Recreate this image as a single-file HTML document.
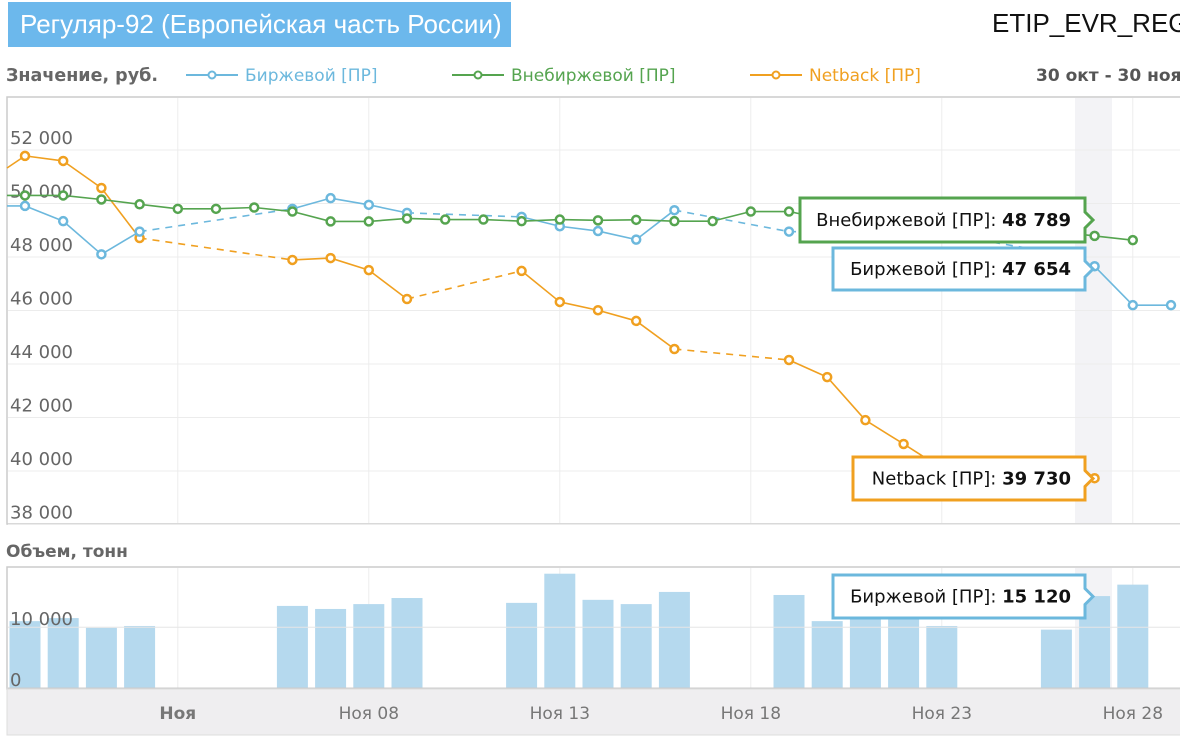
<!DOCTYPE html>
<html><head><meta charset="utf-8">
<style>
body{margin:0;width:1180px;height:740px;overflow:hidden;background:#fff;font-family:"Liberation Sans","DejaVu Sans",sans-serif;}
#title{position:absolute;left:8px;top:2px;width:503px;height:45px;background:#6cb8ec;color:#fff;font-size:26px;line-height:45px;text-indent:12px;white-space:nowrap;}
#code{position:absolute;left:992px;top:8px;font-size:26px;color:#111;white-space:nowrap;}
svg{position:absolute;left:0;top:0;}
</style></head><body>
<div id="title">Регуляр-92 (Европейская часть России)</div>
<div id="code">ETIP_EVR_REG</div>
<svg id="svg" width="1180" height="740"></svg>
<script>
const dayLabels=["","","","","Ноя","","","","","Ноя 08","","","","","Ноя 13","","","","","Ноя 18","","","","","Ноя 23","","","","","Ноя 28",""];
const exchange=[49910,49340,48100,48950,null,null,null,49800,50200,49950,49650,null,null,49500,49150,48970,48650,49750,null,null,48950,null,48900,48850,48870,null,null,48150,47654,46200,46200];
const otc=[50300,50300,50150,49970,49800,49800,49850,49700,49330,49330,49440,49400,49400,49340,49400,49370,49390,49340,49340,49700,49700,49400,49300,49200,49100,49050,49000,48950,48789,48630,null];
const netback=[51780,51590,50580,48710,null,null,null,47890,47960,47510,46430,null,null,47480,46320,46010,45610,44560,null,null,44150,43510,41900,41010,40100,39600,39300,39100,39730,null,null];
const volume=[11000,11500,9900,10200,null,null,null,13500,13000,13800,14800,null,null,14000,18800,14500,13800,15800,null,null,15300,11000,11500,12200,10200,null,null,9600,15120,17000,null];
const yTicks=[38000,40000,42000,44000,46000,48000,50000,52000];
const volTicks=[0,10000];

const NS="http://www.w3.org/2000/svg";
const svg=document.getElementById('svg');
const DJ='"DejaVu Sans",sans-serif';
function el(tag,attrs,parent){const e=document.createElementNS(NS,tag);for(const k in attrs)e.setAttribute(k,attrs[k]);(parent||svg).appendChild(e);return e;}
const xOf=i=>25+i*38.2;
const yOf=v=>150+(52000-v)*0.02675;
const vOf=v=>688-v*0.00608;
const fmt=v=>v.toLocaleString('ru-RU').replace(/\s/g,' ');

let t;
t=el('text',{x:6,y:81,'font-size':17.5,'font-weight':'bold',fill:'#666','font-family':DJ});t.textContent='Значение, руб.';

const leg=[['Биржевой [ПР]','#6cb8dd',186],['Внебиржевой [ПР]','#55a44f',452],['Netback [ПР]','#f0a020',750]];
leg.forEach(([n,c,x])=>{const g=el('g',{});

el('line',{x1:x,y1:75,x2:x+52,y2:75,stroke:c,'stroke-width':2},g);
el('circle',{cx:x+26,cy:75,r:3.5,fill:'#fff',stroke:c,'stroke-width':2},g);
const tt=el('text',{x:x+59,y:81,'font-size':17,fill:c,'font-family':DJ},g);tt.textContent=n;});
t=el('text',{x:1036,y:81,'font-size':17,'font-weight':'bold',fill:'#555','font-family':DJ});t.textContent='30 окт - 30 ноя';


el('rect',{x:7,y:97,width:1180,height:427,fill:'#fff',stroke:'#ccc','stroke-width':1.5});
el('rect',{x:1075,y:98,width:37,height:425,fill:'#f3f3f6'});
el('rect',{x:1075,y:568,width:37,height:120,fill:'#f3f3f6'});
dayLabels.forEach((l,i)=>{if(l){el('line',{x1:xOf(i),y1:98,x2:xOf(i),y2:523,stroke:'#ececec'});el('line',{x1:xOf(i),y1:568,x2:xOf(i),y2:688,stroke:'#ececec'});}});
yTicks.forEach(v=>{const y=yOf(v);el('line',{x1:8,y1:y,x2:1180,y2:y,stroke:'#ececec'});
const tx=el('text',{x:10,y:y-6,'font-size':18,fill:'#666','font-family':DJ});tx.textContent=fmt(v);
});

function series(data,color,name){
  const g=el('g',{});
  let prev=null;
  data.forEach((v,i)=>{if(v==null)return;
    if(prev!=null){const dashed=(i-prev)>1;
      el('line',{x1:xOf(prev),y1:yOf(data[prev]),x2:xOf(i),y2:yOf(v),stroke:color,'stroke-width':1.6,'stroke-dasharray':dashed?'7,6':'none'},g);}
    prev=i;});
  data.forEach((v,i)=>{if(v==null)return;const c=el('circle',{cx:xOf(i),cy:yOf(v),r:4,fill:'#fff',stroke:color,'stroke-width':2.5},g);
    });
  return g;}
el('line',{x1:7,y1:168,x2:xOf(0),y2:yOf(netback[0]),stroke:'#f0a020','stroke-width':1.6});
el('line',{x1:7,y1:yOf(otc[0]),x2:xOf(0),y2:yOf(otc[0]),stroke:'#55a44f','stroke-width':1.6});
el('line',{x1:7,y1:yOf(exchange[0]),x2:xOf(0),y2:yOf(exchange[0]),stroke:'#6cb8dd','stroke-width':1.6});
series(netback,'#f0a020','netback-series');
series(exchange,'#6cb8dd','exchange-series');
series(otc,'#55a44f','otc-series');

t=el('text',{x:6,y:557,'font-size':17,'font-weight':'bold',fill:'#666','font-family':DJ});t.textContent='Объем, тонн';

el('rect',{x:7,y:567,width:1180,height:122,fill:'none',stroke:'#ccc','stroke-width':1.5});
volume.forEach((v,i)=>{if(v==null)return;const b=el('rect',{x:xOf(i)-15.5,y:vOf(v),width:31,height:688-vOf(v),fill:'#b5d9ee'});
});
volTicks.forEach(v=>{const y=vOf(v);el('line',{x1:8,y1:y,x2:1180,y2:y,stroke:v?'#e6e6e6':'#ccc'});
const tx=el('text',{x:10,y:y-2,'font-size':18,fill:'#666','font-family':DJ});tx.textContent=fmt(v);
});
el('rect',{x:7,y:689,width:1180,height:46,fill:'#efeef0',stroke:'#ddd'});
dayLabels.forEach((l,i)=>{if(!l)return;const tx=el('text',{x:xOf(i),y:719,'font-size':17,fill:'#777','text-anchor':'middle','font-family':DJ,'font-weight':l==='Ноя'?'bold':'normal'});tx.textContent=l;
});

function tip(x,y,w,h,color,label,val,name){const g=el('g',{});
const r=x+w,cy=y+h/2;
el('path',{d:`M${x},${y} H${r} V${cy-8} L${r+8},${cy} L${r},${cy+8} V${y+h} H${x} Z`,fill:'#fff',stroke:color,'stroke-width':3},g);
const tx=el('text',{x:r-14,y:cy+6,'font-size':18,'text-anchor':'end',fill:'#111','font-family':DJ},g);
tx.innerHTML=label+': <tspan font-weight="bold">'+val+'</tspan>';}
tip(800,198,285,44,'#55a44f','Внебиржевой [ПР]',fmt(otc[28]),'otc-tooltip');
tip(833,248,252,42,'#6cb8dd','Биржевой [ПР]',fmt(exchange[28]),'exchange-tooltip');
tip(853,457,232,43,'#f0a020','Netback [ПР]',fmt(netback[28]),'netback-tooltip');
tip(833,575,252,43,'#6cb8dd','Биржевой [ПР]',fmt(volume[28]),'volume-tooltip');
</script>
</body></html>
